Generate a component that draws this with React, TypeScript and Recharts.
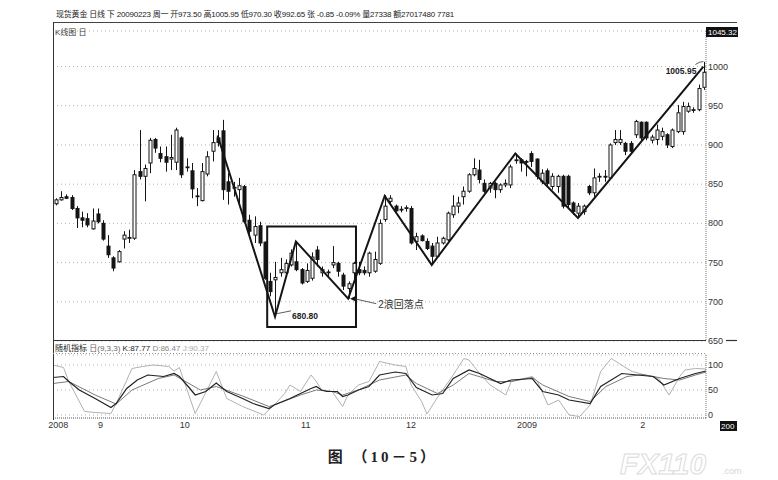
import React from "react";
import {
  ComposedChart,
  Bar,
  Line,
  XAxis,
  YAxis,
  CartesianGrid,
  ReferenceArea,
  ReferenceDot,
} from "recharts";

// daily candles (index 0 = first bar, last bar = 2009-02-23)
const opens = [
  825, 830, 834, 833, 819, 807, 806, 793, 812, 800, 771, 756, 751, 780, 781, 781, 866, 860, 877, 907,
  889, 885, 882, 878, 909, 871, 867, 835, 829, 863, 892, 909, 918, 853, 846, 843, 847, 804, 785, 797,
  776, 726, 728, 737, 737, 747, 751, 741, 726, 730, 766, 737, 738, 747, 749, 734, 717, 737, 741, 740,
  737, 739, 749, 805, 828, 822, 818, 819, 819, 777, 784, 777, 771, 758, 775, 779, 811, 822, 834, 841,
  862, 868, 851, 845, 851, 843, 849, 849, 880, 881, 879, 889, 882, 853, 867, 847, 847, 860, 860, 826,
  813, 815, 847, 839, 859, 860, 858, 903, 903, 902, 902, 913, 929, 929, 906, 907, 911, 913, 898, 917,
  917, 943, 944, 945, 973.5,
];
const highs = [
  832, 841, 837, 836, 822, 815, 813, 819, 819, 804, 785, 758, 766, 790, 792, 868, 919, 875, 909, 909,
  898, 898, 913, 922, 911, 883, 877, 845, 877, 892, 919, 919, 932, 864, 853, 858, 849, 811, 809, 802,
  777, 737, 751, 756, 754, 767, 777, 743, 749, 763, 771, 745, 741, 771, 751, 737, 726, 751, 751, 745,
  764, 764, 805, 836, 836, 824, 822, 823, 822, 788, 786, 781, 775, 783, 783, 815, 836, 834, 847, 864,
  883, 881, 856, 853, 853, 851, 856, 875, 889, 883, 881, 892, 883, 869, 870, 864, 862, 862, 862, 828,
  826, 824, 849, 870, 864, 868, 902, 919, 919, 904, 905, 932, 930, 930, 913, 926, 922, 915, 921, 951,
  955, 954, 948, 977, 1005.95,
];
const lows = [
  823, 829, 831, 817, 794, 795, 795, 792, 800, 778, 756, 739, 750, 768, 775, 779, 856, 828, 864, 890,
  878, 866, 868, 868, 858, 866, 832, 822, 828, 860, 879, 898, 830, 824, 834, 826, 800, 785, 775, 771,
  728, 707, 680.8, 732, 732, 745, 739, 722, 724, 727, 745, 732, 732, 743, 732, 715, 704, 724, 734, 734,
  732, 737, 747, 802, 824, 815, 814, 815, 773, 766, 777, 766, 747, 756, 773, 777, 807, 813, 824, 839,
  860, 851, 839, 839, 832, 839, 846, 845, 876, 866, 860, 872, 856, 850, 847, 843, 839, 819, 819, 811,
  807, 811, 836, 834, 853, 853, 856, 900, 900, 887, 889, 909, 906, 906, 902, 900, 906, 896, 896, 915,
  913, 941, 941, 943, 970.3,
];
const closes = [
  830, 833, 832, 819, 807, 804, 798, 803, 802, 780, 760, 743, 764, 785, 782, 862, 860, 870, 906, 896,
  883, 878, 884, 919, 862, 872, 844, 834, 866, 885, 903, 903, 843, 841, 845, 848, 802, 790, 796, 775,
  730, 713, 731, 741, 749, 762, 741, 724, 740, 757, 754, 741, 737, 750, 739, 720, 723, 749, 737, 737,
  762, 754, 800, 822, 832, 816, 817, 820, 775, 783, 778, 768, 758, 775, 781, 813, 822, 826, 841, 862,
  870, 856, 841, 851, 843, 849, 851, 872, 881, 877, 878, 879, 860, 864, 851, 860, 860, 822, 824, 815,
  822, 822, 839, 858, 860, 859, 900, 907, 907, 892, 892, 930, 909, 909, 910, 919, 917, 900, 919, 941,
  949, 949, 945, 972, 992.65,
];

// hand-drawn wave line turning points [bar index, price]
const wavePts: [number, number][] = [
  [31, 912], [42, 680.8], [46, 777], [56, 704], [63, 835], [72, 747], [88, 889], [100, 807], [124, 1000],
];

// stochastic KDJ(9,3,3) read at visible turning points [bar index, value]
const kPts: [number, number][] = [
  [0, 75], [2, 77], [3, 67], [5, 50], [8, 33], [11, 15], [12, 23], [14, 53], [16, 70], [18, 80], [21, 77],
  [23, 83], [24, 77], [26, 53], [27, 40], [29, 47], [31, 64], [33, 47], [36, 33], [38, 23], [41, 13],
  [42, 20], [45, 33], [47, 43], [49, 53], [50, 57], [51, 50], [52, 47], [54, 47], [55, 37], [56, 40],
  [58, 50], [60, 57], [62, 80], [65, 86], [67, 83], [69, 55], [72, 40], [74, 43], [76, 73], [79, 90],
  [81, 83], [85, 63], [87, 70], [91, 73], [93, 47], [96, 40], [98, 30], [102, 23], [104, 57], [108, 83],
  [110, 81], [114, 77], [116, 60], [119, 73], [122, 83], [124, 88],
];
const dPts: [number, number][] = [
  [0, 63], [3, 67], [8, 40], [12, 22], [15, 50], [20, 73], [23, 80], [28, 50], [31, 57], [36, 38],
  [41, 17], [42, 20], [47, 40], [50, 50], [53, 47], [55, 40], [58, 50], [62, 70], [67, 80], [69, 63],
  [73, 43], [76, 60], [79, 83], [84, 67], [87, 67], [91, 75], [93, 60], [98, 37], [102, 27], [105, 57],
  [109, 77], [112, 81], [116, 73], [119, 70], [122, 80], [124, 86],
];
const jPts: [number, number][] = [
  [0, 100], [2, 95], [3, 67], [6, 7], [8, 5], [11, 3], [12, 23], [15, 93], [17, 97], [19, 100], [22, 97],
  [23, 88], [24, 95], [27, 3], [31, 87], [33, 33], [36, 17], [40, 0], [42, 20], [44, 43], [45, 60],
  [47, 47], [49, 80], [50, 67], [51, 50], [53, 47], [55, 17], [56, 40], [58, 60], [60, 67], [62, 107],
  [65, 100], [67, 97], [68, 60], [70, 27], [71, 2], [73, 35], [76, 80], [78, 113], [79, 110], [81, 83],
  [83, 60], [86, 40], [87, 67], [91, 77], [92, 67], [94, 20], [96, 30], [98, 0], [100, -3], [102, 20],
  [104, 87], [106, 113], [109, 93], [110, 87], [115, 73], [117, 40], [119, 77], [120, 90], [122, 93],
  [124, 92],
];

const priceTicks = [650, 700, 750, 800, 850, 900, 950, 1000, 1045.32];
const kdjTicks = [0, 50, 100];
const monthTickIdx = [1, 9, 25, 48, 68, 90, 112];
const monthTickLabels = ["2008", "9", "10", "11", "12", "2009", "2"];

const TITLE =
  "现货黄金 日线 下 20090223 周一 开973.50 高1005.95 低970.30 收992.65 张 -0.85 -0.09% 量27338 额27017480 7781";

const toMap = (pts: [number, number][]) => new Map(pts.map(([i, v]) => [i, v]));
const waveMap = toMap(wavePts);
const kMap = toMap(kPts);
const dMap = toMap(dPts);
const jMap = toMap(jPts);

const data = opens.map((o, i) => ({
  i,
  o,
  h: highs[i],
  l: lows[i],
  c: closes[i],
  range: [lows[i], highs[i]],
  wave: waveMap.get(i) ?? null,
  k: kMap.get(i) ?? null,
  d: dMap.get(i) ?? null,
  j: jMap.get(i) ?? null,
}));

const INK = "#151515";

function Candle(props: any) {
  const { x, y, width, height, payload } = props;
  if (x == null || y == null || !payload) return null;
  const { o, h, l, c } = payload;
  const top = Math.min(y, y + height);
  const span = Math.abs(height);
  const py = (v: number) => (h === l ? top : top + ((h - v) / (h - l)) * span);
  const cx = Math.round(x + width / 2) + 0.5;
  const bTop = py(Math.max(o, c));
  const bBot = py(Math.min(o, c));
  const up = c >= o;
  return (
    <g>
      <line x1={cx} x2={cx} y1={top} y2={top + span} stroke={INK} strokeWidth={1} />
      <rect
        x={cx - 1.5}
        y={bTop}
        width={3}
        height={Math.max(bBot - bTop, 0.8)}
        fill={up ? "#fff" : INK}
        stroke={INK}
        strokeWidth={1}
      />
    </g>
  );
}

function PriceTick(props: any) {
  const { x, y, payload } = props;
  if (payload.value === 1045.32) {
    return (
      <g>
        <rect x={x - 2} y={y - 4} width={32} height={10} fill="#111" />
        <text x={x} y={y + 4} fontSize={8} fill="#fff">1045.32</text>
      </g>
    );
  }
  return (
    <text x={x} y={y + 3} fontSize={9} fill="#333">
      {payload.value}
    </text>
  );
}

function KdjTick(props: any) {
  const { x, y, payload } = props;
  return (
    <text x={x} y={y + 3} fontSize={9} fill="#333">
      {payload.value}
    </text>
  );
}

function MonthTick(props: any) {
  const { x, y, payload } = props;
  const idx = monthTickIdx.indexOf(payload.value);
  return (
    <text x={x} y={y + 8} fontSize={9} fill="#333" textAnchor="middle">
      {monthTickLabels[idx]}
    </text>
  );
}

const LowLabel = (p: any) => (
  <g>
    <line x1={p.cx + 1} y1={p.cy - 3} x2={p.cx + 16} y2={p.cy - 6} stroke="#333" strokeWidth={0.8} />
    <text x={p.cx + 17} y={p.cy + 2} fontSize={8.5} fontWeight="bold" fill="#222">680.80</text>
  </g>
);

const FallLabel = (p: any) => (
  <g>
    <path d={`M${p.cx + 2},${p.cy} l5,-2.5 l0,5 z`} fill="#111" />
    <line x1={p.cx + 6} y1={p.cy} x2={p.cx + 28} y2={p.cy + 5} stroke="#333" strokeWidth={0.8} />
    <text x={p.cx + 30} y={p.cy + 9} fontSize={10} fill="#333">2浪回落点</text>
  </g>
);

const HighLabel = (p: any) => (
  <g>
    <path d={`M${p.cx - 8},${p.cy - 2} q4,-3 8,-3`} stroke="#333" strokeWidth={0.8} fill="none" />
    <text x={p.cx - 7} y={p.cy + 7} fontSize={8.5} fontWeight="bold" fill="#222" textAnchor="end">1005.95</text>
  </g>
);

export default function App() {
  return (
    <div
      style={{
        position: "absolute",
        left: 0,
        top: 0,
        width: 778,
        height: 480,
        background: "#fff",
        fontFamily: "'Liberation Sans', 'Noto Sans CJK SC', sans-serif",
        overflow: "hidden",
      }}
    >
      <div
        style={{
          position: "absolute",
          left: 56,
          top: 8,
          fontSize: 8,
          letterSpacing: -0.2,
          color: "#222",
          whiteSpace: "nowrap",
        }}
      >
        {TITLE}
      </div>
      <div style={{ position: "absolute", left: 55, top: 26, fontSize: 8, color: "#333" }}>K线图 日</div>

      <div style={{ position: "absolute", left: 0, top: 0 }}>
        <ComposedChart width={778} height={345} data={data} margin={{ top: 31, right: 42, bottom: 4, left: 53 }}>
          <CartesianGrid vertical={false} stroke="#b5b5b5" strokeDasharray="1 3" />
          <XAxis dataKey="i" hide />
          <YAxis
            orientation="right"
            width={30}
            domain={[650, 1045.32]}
            ticks={priceTicks}
            interval={0}
            tickSize={0}
            tickMargin={2}
            tick={<PriceTick />}
            axisLine={{ stroke: "#777", strokeDasharray: "1 1" }}
            allowDataOverflow
          />
          <Bar dataKey="range" barSize={4} shape={<Candle />} isAnimationActive={false} />
          <Line
            dataKey="wave"
            connectNulls
            dot={false}
            stroke={INK}
            strokeWidth={2}
            isAnimationActive={false}
          />
          <ReferenceArea x1={41} x2={57} y1={668} y2={796} fill="none" stroke={INK} strokeWidth={2} />
          <ReferenceDot x={42} y={680.8} shape={LowLabel} />
          <ReferenceDot x={56} y={704} shape={FallLabel} />
          <ReferenceDot x={124} y={1000} shape={HighLabel} />
        </ComposedChart>
      </div>

      <div style={{ position: "absolute", left: 55, top: 342, fontSize: 8, color: "#222", whiteSpace: "nowrap" }}>
        随机指标 <span style={{ color: "#666" }}>日(9,3,3)</span> K:87.77{" "}
        <span style={{ color: "#888" }}>D:86.47</span> <span style={{ color: "#aaa" }}>J:90.37</span>
      </div>

      <div style={{ position: "absolute", left: 0, top: 341 }}>
        <ComposedChart width={778} height={95} data={data} margin={{ top: 14, right: 42, bottom: 3, left: 53 }}>
          <CartesianGrid vertical={false} stroke="#b5b5b5" strokeDasharray="1 3" />
          <XAxis
            dataKey="i"
            ticks={monthTickIdx}
            interval={0}
            height={15}
            tickSize={0}
            tickMargin={2}
            tick={<MonthTick />}
            axisLine={{ stroke: "#666", strokeDasharray: "1 1" }}
          />
          <YAxis
            orientation="right"
            width={30}
            domain={[-6, 120]}
            ticks={kdjTicks}
            interval={0}
            tickSize={0}
            tickMargin={2}
            tick={<KdjTick />}
            axisLine={{ stroke: "#777", strokeDasharray: "1 1" }}
            allowDataOverflow
          />
          <Line dataKey="j" connectNulls dot={false} stroke="#b0b0b0" strokeWidth={1} isAnimationActive={false} />
          <Line dataKey="d" connectNulls dot={false} stroke="#7a7a7a" strokeWidth={1} isAnimationActive={false} />
          <Line dataKey="k" connectNulls dot={false} stroke="#222" strokeWidth={1.2} isAnimationActive={false} />
        </ComposedChart>
      </div>

      <svg width={778} height={480} style={{ position: "absolute", left: 0, top: 0, pointerEvents: "none" }}>
        <line x1={53} y1={22.5} x2={737} y2={22.5} stroke="#444" strokeWidth={1} />
        <line x1={53.5} y1={22} x2={53.5} y2={420} stroke="#333" strokeWidth={1} />
        <line x1={53} y1={340.5} x2={706} y2={340.5} stroke="#333" strokeWidth={1.2} />
        <line x1={726} y1={340.5} x2={737} y2={340.5} stroke="#333" strokeWidth={1.2} />
        <line x1={53} y1={353.5} x2={706} y2={353.5} stroke="#999" strokeDasharray="1 2" />
        <rect x={720} y={421} width={17} height={10} fill="#111" />
        <text x={721} y={429} fontSize={8} fill="#fff">200</text>
        <text x={383} y={462} fontSize={15} fontWeight="bold" textAnchor="middle" fill="#222" letterSpacing={3}
          fontFamily="'Liberation Serif', 'Noto Sans CJK SC', serif">
          图 （10－5）
        </text>
        <text x={620} y={474} fontSize={30} fontWeight="bold" fill="none" stroke="#dcdcdc" strokeWidth={1}
          fontFamily="'Liberation Sans', sans-serif" fontStyle="italic">
          FX110
        </text>
        <text x={722} y={474} fontSize={9} fill="#d6d6d6">.com</text>
      </svg>
    </div>
  );
}
